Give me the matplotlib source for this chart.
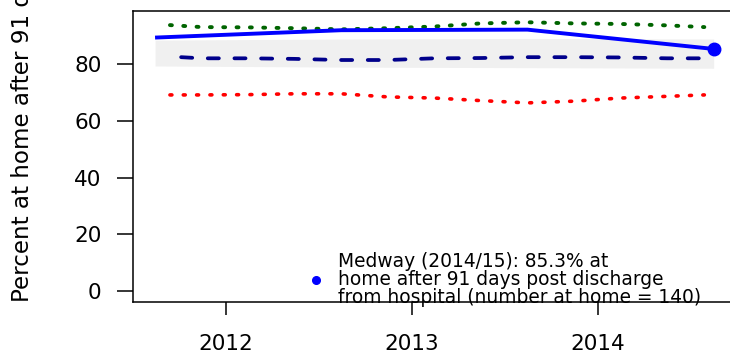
import matplotlib
matplotlib.use("Agg")
import matplotlib.pyplot as plt

plt.rcParams["font.family"] = ["DejaVu Sans"]
plt.rcParams["lines.scale_dashes"] = False

# Medway: percent at home 91 days after discharge, by financial year
medway_x = [2011.62, 2012.62, 2013.62, 2014.62]
medway_pct = [89.3, 91.9, 92.1, 85.3]

# shaded range around the Medway series
band_lower = [79.3, 78.9, 78.7, 78.5]
band_upper = [88.4, 88.8, 89.0, 88.8]

# comparator series (quarterly)
ref_x = [2011.70, 2011.87, 2012.12, 2012.37, 2012.62, 2012.87, 2013.12,
         2013.37, 2013.62, 2013.87, 2014.12, 2014.37, 2014.57]
upper_ref = [93.7, 93.0, 92.9, 92.6, 92.2, 92.6, 93.2,
             94.3, 94.7, 94.3, 94.1, 93.6, 93.0]
lower_ref = [69.1, 69.1, 69.2, 69.5, 69.5, 68.4, 68.0,
             67.1, 66.3, 66.9, 68.0, 68.6, 69.1]
mid_x = [2011.76, 2011.87, 2012.12, 2012.37, 2012.62, 2012.87, 2013.12,
         2013.37, 2013.62, 2013.87, 2014.12, 2014.37, 2014.56]
mid_ref = [82.4, 82.0, 82.0, 81.8, 81.4, 81.4, 82.0,
           82.1, 82.4, 82.4, 82.3, 82.0, 82.0]

x_ticks = [2012, 2013, 2014]
y_ticks = [0, 20, 40, 60, 80]

legend_text = ("Medway (2014/15): 85.3% at\n"
               "home after 91 days post discharge\n"
               "from hospital (number at home = 140)")

fig = plt.figure(figsize=(7.30, 3.53), dpi=100)
ax = fig.add_axes([0.1818, 0.1445, 0.8264, 0.823])

ax.fill_between(medway_x, band_lower, band_upper, color="#f0f0f0", lw=0, zorder=1)

ax.plot(ref_x, upper_ref, color="#006400", lw=2.8, dashes=(1.4, 8.2),
        dash_capstyle="round", zorder=2)
ax.plot(ref_x, lower_ref, color="#ff0000", lw=2.6, dashes=(1.4, 8.2),
        dash_capstyle="round", zorder=2)
ax.plot(mid_x, mid_ref, color="#00008b", lw=2.7, dashes=(8.0, 11.2),
        dash_capstyle="round", zorder=2)

ax.plot(medway_x, medway_pct, color="#0000ff", lw=2.8, zorder=3,
        solid_capstyle="butt")
ax.plot(medway_x[-1:], medway_pct[-1:], "o", color="#0000ff", ms=9,
        zorder=4, clip_on=False)

# key
ax.plot([0.303], [0.077], "o", color="#0000ff", ms=5.5, transform=ax.transAxes)
ax.text(0.340, 0.077, legend_text, transform=ax.transAxes, ha="left",
        va="center", fontsize=13.4, linespacing=0.93, color="#000000")

ax.set_xlim(2011.50, 2014.74)
ax.set_ylim(-3.85, 98.5)
ax.set_xticks(x_ticks)
ax.set_xticklabels([str(v) for v in x_ticks])
ax.set_yticks(y_ticks)
ax.set_yticklabels([str(v) for v in y_ticks])

for s in ax.spines.values():
    s.set_linewidth(1.1)
ax.tick_params(axis="x", length=9.1, width=1.1, pad=14, labelsize=15.5,
               colors="#000000")
ax.tick_params(axis="y", length=11.5, width=1.1, pad=11, labelsize=15.5,
               colors="#000000")

fig.text(0.031, 0.1445, "Percent at home after 91 days", rotation=90,
         ha="center", va="bottom", fontsize=16.6, color="#000000")

fig.savefig("out.png", dpi=100)
